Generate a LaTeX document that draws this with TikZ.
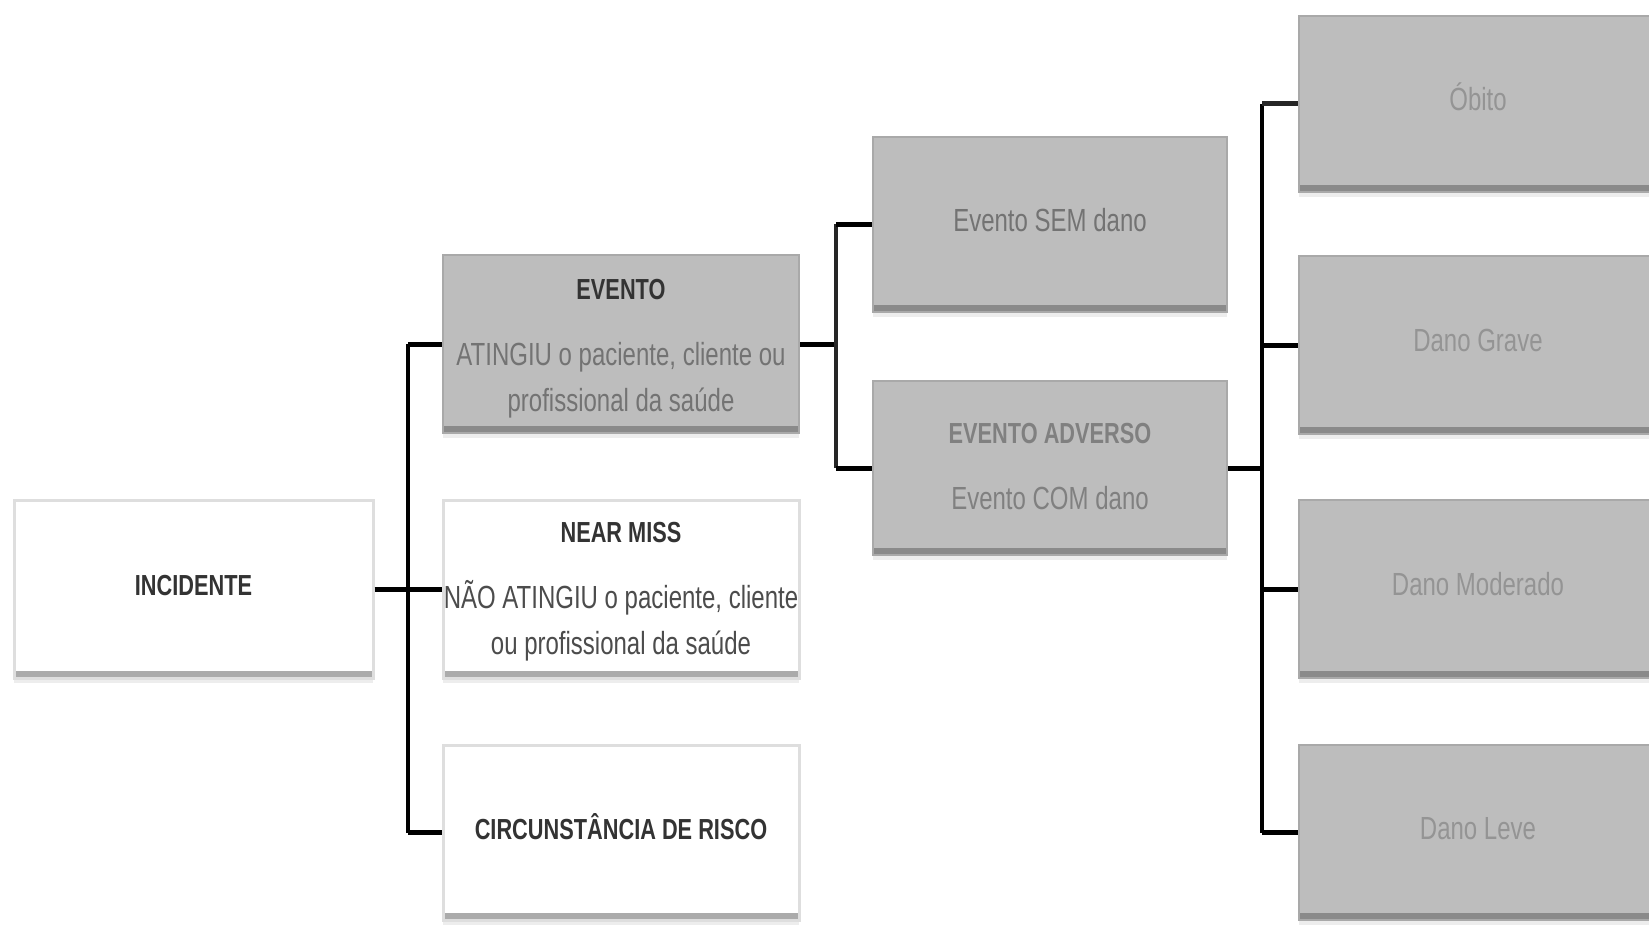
\documentclass[tikz,border=0pt]{standalone}
\usepackage{fontspec}
\setmainfont{Liberation Sans}[FakeStretch=0.75]
\usetikzlibrary{fit}
\definecolor{gfill}{HTML}{BDBDBD}
\definecolor{gline}{HTML}{A9A9A9}
\definecolor{gbar}{HTML}{8A8A8A}
\definecolor{wline}{HTML}{DEDEDE}
\definecolor{wbar}{HTML}{ABABAB}
\definecolor{shad}{HTML}{EDEDED}
\newcommand{\boxtext}[2][3pt]{\raisebox{-#1}[0pt][0pt]{\begin{tabular}{@{}c@{}}#2\end{tabular}}}
\newcommand{\ttl}[1]{{\fontsize{14.5}{23}\selectfont\bfseries #1}}
\tikzset{
  boxbase/.style={inner sep=0pt, font=\fontsize{16}{23}\selectfont,
    preaction={fill=shad, transform canvas={yshift=-2.5pt}}},
  gbox/.style={boxbase, fill=gfill, draw=gline, line width=1pt,
    path picture={\fill[gbar] (path picture bounding box.south west) rectangle ([yshift=3.5pt]path picture bounding box.south east);}},
  wbox/.style={boxbase, fill=white, draw=wline, line width=1.5pt,
    path picture={\fill[wbar] (path picture bounding box.south west) rectangle ([yshift=3.5pt]path picture bounding box.south east);}},
  stub/.style={line width=2.5pt, black},
  trunk/.style={line width=1.6pt, black},
}
\begin{document}
\begin{tikzpicture}[x=0.5pt,y=-0.5pt]
\useasboundingbox (0,0) rectangle (1649,925);
% left column
\node[wbox, fit={(14,500) (373,678)}, text=black!80] (inc) {\boxtext{\ttl{INCIDENTE}}};
\node[gbox, fit={(443,255) (799,433)}, text=black!55] (ev) {\boxtext[5.6pt]{\ttl{\textcolor{black!80}{EVENTO}}\\[10pt]ATINGIU o paciente, cliente ou\\profissional da saúde}};
\node[wbox, fit={(443,500) (799,678)}, text=black!70] (nm) {\boxtext[4.6pt]{\ttl{\textcolor{black!80}{NEAR MISS}}\\[10pt]NÃO ATINGIU o paciente, cliente\\ou profissional da saúde}};
\node[wbox, fit={(443,745) (799,920)}, text=black!80] (cr) {\boxtext{\ttl{CIRCUNSTÂNCIA DE RISCO}}};
% middle column
\node[gbox, fit={(873,137) (1227,312)}, text=black!55] (sem) {\boxtext{Evento SEM dano}};
\node[gbox, fit={(873,381) (1227,555)}, text=black!50] (adv) {\boxtext[3.8pt]{\ttl{EVENTO ADVERSO}\\[10pt]Evento COM dano}};
% right column
\node[gbox, fit={(1299,16) (1657,192)}, text=black!42] (ob) {\boxtext{Óbito}};
\node[gbox, fit={(1299,256) (1657,434)}, text=black!42] (gr) {\boxtext{Dano Grave}};
\node[gbox, fit={(1299,500) (1657,678)}, text=black!42] (mo) {\boxtext{Dano Moderado}};
\node[gbox, fit={(1299,745) (1657,920)}, text=black!42] (le) {\boxtext{Dano Leve}};
% junctions
\coordinate (j1) at (408,0);
\coordinate (j2) at (836,0);
\coordinate (j3) at (1262,0);
% connectors level 1
\draw[stub] (inc.east) -- (nm.west);
\draw[trunk] (ev.west -| j1) -- (cr.west -| j1);
\draw[stub] (ev.west -| j1) -- (ev.west);
\draw[stub] (cr.west -| j1) -- (cr.west);
% level 2
\draw[stub] (ev.east) -- (ev.east -| j2);
\draw[trunk, black!85] (sem.west -| j2) -- (adv.west -| j2);
\draw[stub] (sem.west -| j2) -- (sem.west);
\draw[stub] (adv.west -| j2) -- (adv.west);
% level 3
\draw[stub] (adv.east) -- (adv.east -| j3);
\draw[trunk] (ob.west -| j3) -- (le.west -| j3);
\draw[stub, black!85] (ob.west -| j3) -- (ob.west);
\draw[stub] (gr.west -| j3) -- (gr.west);
\draw[stub] (mo.west -| j3) -- (mo.west);
\draw[stub] (le.west -| j3) -- (le.west);
\end{tikzpicture}
\end{document}
